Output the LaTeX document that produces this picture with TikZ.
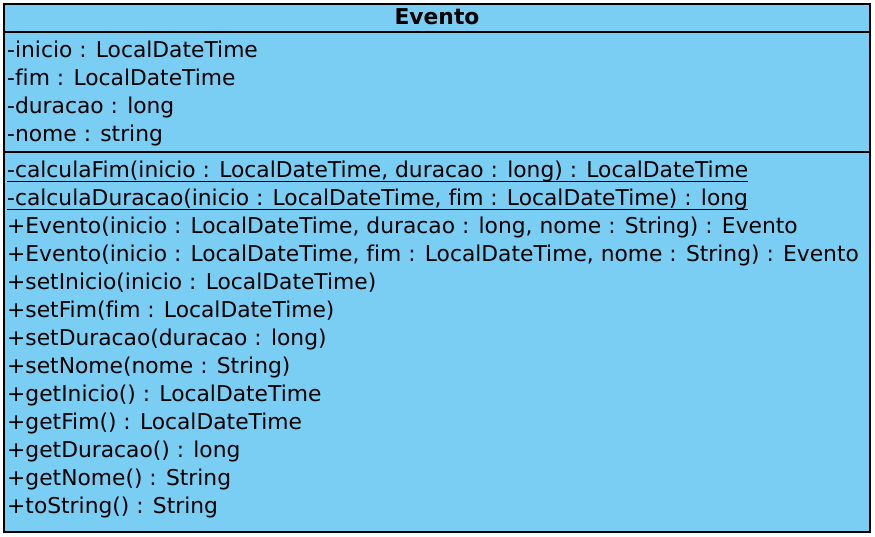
\documentclass[tikz,border=0pt]{standalone}
\usepackage{fontspec}
\setmainfont[Ligatures=NoCommon]{DejaVu Sans}
\usetikzlibrary{positioning}
\definecolor{classblue}{RGB}{122,206,244}

\begin{document}
\begin{tikzpicture}[x=1pt, y=-1pt,
    classbox/.style={draw=black, line width=1.5pt, fill=classblue},
    member/.style={anchor=base west, inner sep=0pt, font=\fontsize{21.8}{26}\selectfont},
    static/.style={line width=1.5pt}]
    \useasboundingbox (0,0) rectangle (875,536);
    % class frame and compartments
    \draw[classbox] (4,4) rectangle (870,532);
    \draw[line width=1.5pt] (4,32) -- (870,32);
    \draw[line width=1.5pt] (4,152) -- (870,152);
    \node[member, anchor=base] (title) at (437,24.5) {\bfseries Evento};
    % attributes
    \node[member] (a1) at (7,57)  {-inicio : LocalDateTime};
    \node[member] (a2) at (7,85)  {-fim : LocalDateTime};
    \node[member] (a3) at (7,113) {-duracao : long};
    \node[member] (a4) at (7,141) {-nome : string};
    % methods
    \node[member] (m1)  at (7,177) {-calculaFim(inicio : LocalDateTime, duracao : long) : LocalDateTime};
    \node[member] (m2)  at (7,205) {-calculaDuracao(inicio : LocalDateTime, fim : LocalDateTime) : long};
    \node[member] (m3)  at (7,233) {+Evento(inicio : LocalDateTime, duracao : long, nome : String) : Evento};
    \node[member] (m4)  at (7,261) {+Evento(inicio : LocalDateTime, fim : LocalDateTime, nome : String) : Evento};
    \node[member] (m5)  at (7,289) {+setInicio(inicio : LocalDateTime)};
    \node[member] (m6)  at (7,317) {+setFim(fim : LocalDateTime)};
    \node[member] (m7)  at (7,345) {+setDuracao(duracao : long)};
    \node[member] (m8)  at (7,373) {+setNome(nome : String)};
    \node[member] (m9)  at (7,401) {+getInicio() : LocalDateTime};
    \node[member] (m10) at (7,429) {+getFim() : LocalDateTime};
    \node[member] (m11) at (7,457) {+getDuracao() : long};
    \node[member] (m12) at (7,485) {+getNome() : String};
    \node[member] (m13) at (7,513) {+toString() : String};
    % static members are underlined
    \draw[static] ([yshift=-4.5pt]m1.base west) -- ([yshift=-4.5pt]m1.base east);
    \draw[static] ([yshift=-4.5pt]m2.base west) -- ([yshift=-4.5pt]m2.base east);
\end{tikzpicture}
\end{document}
